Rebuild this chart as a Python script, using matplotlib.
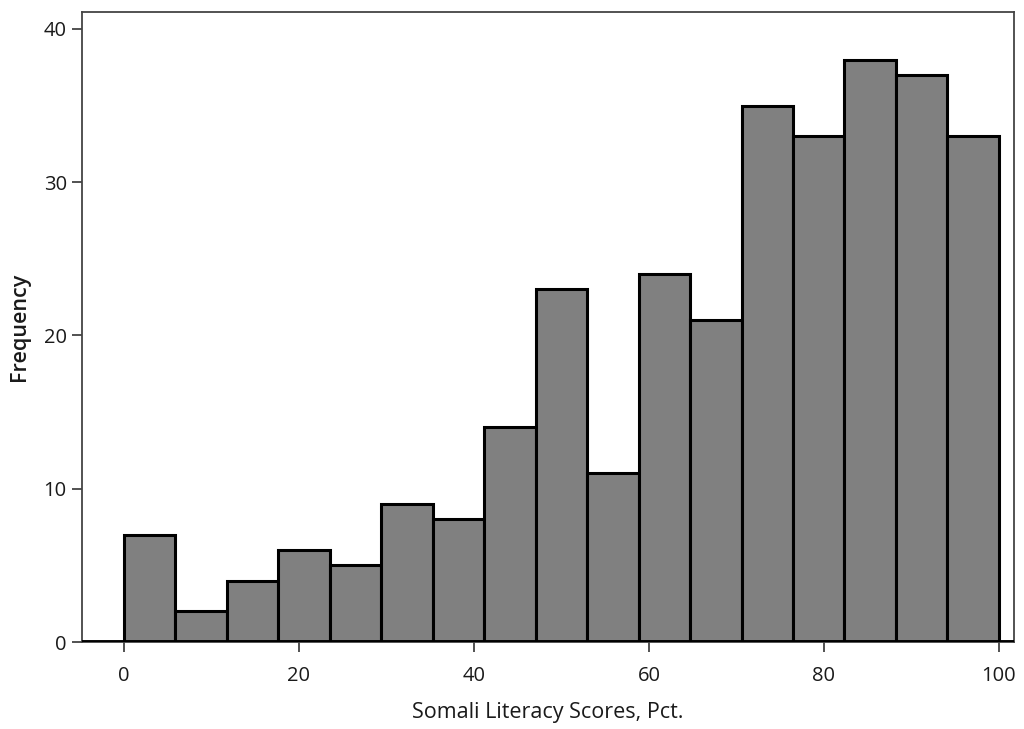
import matplotlib
matplotlib.use("Agg")
import matplotlib.pyplot as plt
import numpy as np

counts = [7, 2, 4, 6, 5, 9, 8, 14, 23, 11, 24, 21, 35, 33, 38, 37, 33]
bin_start = 0
bin_end = 100
xticks = [0, 20, 40, 60, 80, 100]
yticks = [0, 10, 20, 30, 40]

plt.rcParams['font.family'] = ['Open Sans', 'DejaVu Sans']

fig = plt.figure(figsize=(10.24, 7.29), dpi=100)
ax = fig.add_axes([0.0801, 0.1193, 0.9099, 0.8642])

edges = np.linspace(bin_start, bin_end, len(counts) + 1)
ax.bar(edges[:-1], counts, width=np.diff(edges), align='edge',
       color='#808080', edgecolor='black', linewidth=2.2, zorder=2)

ax.set_xlim(-4.8, 101.7)
ax.set_ylim(0, 41.1)
ax.set_xticks(xticks)
ax.set_yticks(yticks)
ax.tick_params(axis='both', labelsize=14.5, color='#333333', width=1.2,
               labelcolor='#1a1a1a')
ax.tick_params(axis='x', length=7, pad=10)
ax.tick_params(axis='y', length=7, pad=4)
for s in ax.spines.values():
    s.set_color('#444444')
    s.set_linewidth(1.3)
ax.axhline(0, color='black', linewidth=2.8, zorder=3)

ax.set_xlabel('Somali Literacy Scores, Pct.', fontsize=15.5, labelpad=12,
              color='#1a1a1a')
ax.set_ylabel('Frequency', fontsize=15.5, fontweight='semibold', labelpad=10,
              color='#1a1a1a')

fig.savefig('out.png', dpi=100)
